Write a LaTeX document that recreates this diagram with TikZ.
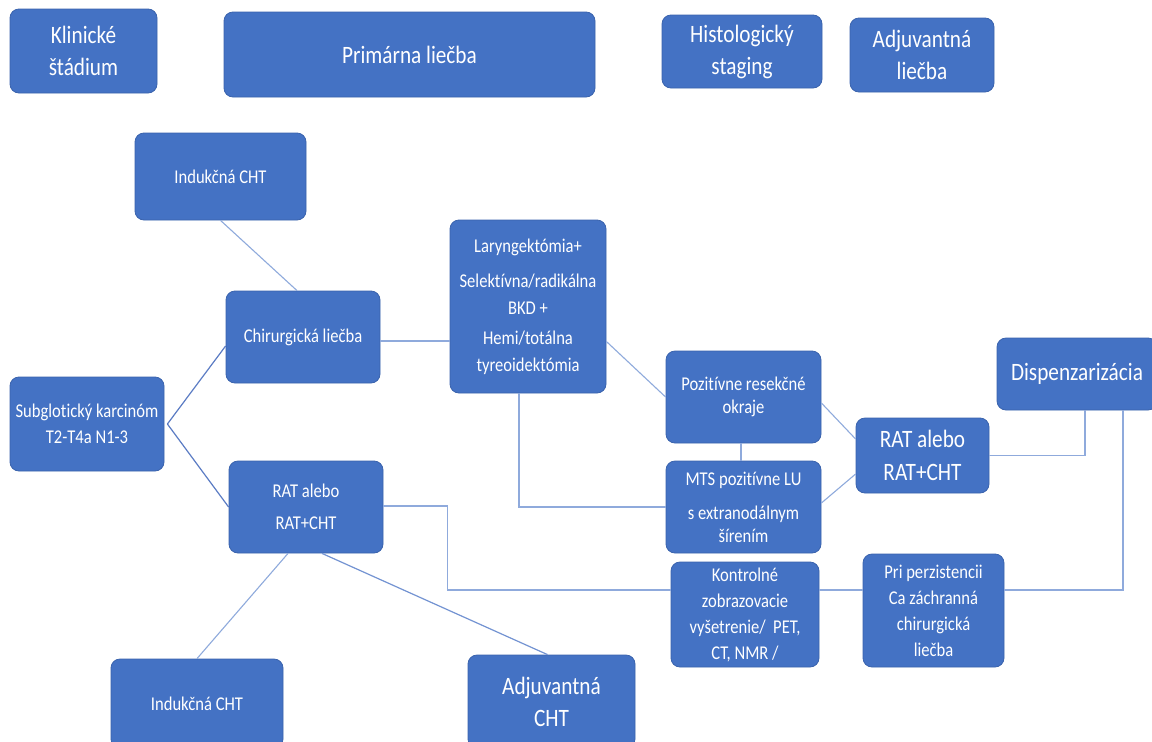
\documentclass[tikz,border=0pt]{standalone}
\usepackage{fontspec}
\setmainfont{Carlito}[FakeStretch=0.85, Ligatures={CommonOff}]
\definecolor{boxblue}{HTML}{4472C4}
\definecolor{boxedge}{HTML}{3A63AD}
\definecolor{lightline}{HTML}{8FAADC}
\definecolor{darkline}{HTML}{5B7CC4}
\definecolor{midline}{HTML}{7393D2}
\tikzset{
  box/.style={rectangle, rounded corners=9pt, fill=boxblue, draw=boxedge, line width=0.8pt, text=white, align=center, inner sep=0pt},
  big/.style={font=\fontsize{25}{32}\selectfont},
  small/.style={font=\fontsize{19.5}{26}\selectfont},
  smalltight/.style={font=\fontsize{19.5}{23}\selectfont},
  conn/.style={draw=lightline, line width=1.1pt},
  connd/.style={draw=darkline, line width=1.2pt},
  connm/.style={draw=midline, line width=1.2pt}
}
\begin{document}
\begin{tikzpicture}[x=1pt, y=-1pt]
\useasboundingbox (0,0) rectangle (1152,742);
\clip (0,0) rectangle (1152,742);
\fill[white] (0,0) rectangle (1152,742);
% header row
\node[box, big, minimum width=147pt, minimum height=84pt] (klin) at (83.5,51) {Klinické\\štádium};
\node[box, big, minimum width=371pt, minimum height=85pt] (prim) at (409.5,54.5) {Primárna liečba};
\node[box, big, minimum width=160pt, minimum height=73pt] (hist) at (742,51.5) {Histologický\\staging};
\node[box, big, minimum width=144pt, minimum height=74pt] (adjl) at (922,55) {Adjuvantná\\liečba};
% main diagram
\node[box, small, minimum width=171pt, minimum height=87pt] (ind1) at (220.5,176.5) {Indukčná CHT};
\node[box, small, minimum width=154pt, minimum height=92pt] (chir) at (303,337) {Chirurgická liečba};
\node[box, font=\fontsize{19.5}{27}\selectfont, minimum width=156pt, minimum height=173pt] (lar) at (528,306.5) {Laryngektómia+\\[8pt]Selektívna/radikálna\\BKD +\\[3pt]Hemi/totálna\\tyreoidektómia};
\node[box, small, minimum width=154pt, minimum height=94pt] (sub) at (87,424) {Subglotický karcinóm\\T2-T4a N1-3};
\node[box, smalltight, minimum width=155pt, minimum height=92pt] (poz) at (743.5,397) {Pozitívne resekčné\\okraje};
\node[box, smalltight, minimum width=155pt, minimum height=92pt] (mts) at (743.5,507) {MTS pozitívne LU\\[11pt]s extranodálnym\\šírením};
\node[box, font=\fontsize{25}{33}\selectfont, minimum width=133pt, minimum height=75pt] (rat2) at (922.5,455.5) {RAT alebo\\RAT+CHT};
\node[box, big, minimum width=160pt, minimum height=72pt] (disp) at (1077,374) {Dispenzarizácia};
\node[box, small, minimum width=154pt, minimum height=92pt] (rat1) at (306,507) {RAT alebo\\[6pt]RAT+CHT};
\node[box, small, minimum width=148pt, minimum height=105pt] (kon) at (745,614.5) {Kontrolné\\zobrazovacie\\vyšetrenie/~ PET,\\CT, NMR /};
\node[box, small, minimum width=141pt, minimum height=113pt] (pri) at (933.5,610.5) {Pri perzistencii\\Ca záchranná\\chirurgická\\liečba};
\node[box, small, minimum width=172pt, minimum height=89pt] (ind2) at (197,703.5) {Indukčná CHT};
\node[box, big, minimum width=167pt, minimum height=93pt] (adjc) at (551.5,701.5) {Adjuvantná\\CHT};
% connectors
\draw[connd] ([xshift=3pt]sub.east) -- ([yshift=-9pt]chir.west);
\draw[connd] ([xshift=3pt]sub.east) -- (rat1.west);
\draw[conn] (ind1.south) -- ([xshift=-6pt]chir.north);
\draw[conn] ([yshift=-4pt]chir.east) -- ([yshift=-4pt]chir.east -| lar.west);
\draw[conn] ([yshift=-35pt]lar.east) -- (poz.west);
\draw[conn] ([xshift=-9pt]lar.south) |- (mts.west);
\draw[conn] ([xshift=-2.5pt]poz.south) -- ([xshift=-2.5pt]mts.north);
\draw[conn] ([yshift=-6pt]poz.east) -- ([yshift=16.5pt]rat2.west);
\draw[conn] ([yshift=4pt]mts.east) -- ([yshift=-18.5pt]rat2.west);
\draw[conn] (rat2.east) -| ([xshift=8pt]disp.south);
\draw[conn] ([xshift=46pt]disp.south) |- ([yshift=20.5pt]pri.east);
\draw[conn] ([yshift=24.5pt]kon.east) -- ([yshift=24.5pt]kon.east -| pri.west);
\draw[conn] ([yshift=1pt]rat1.east) -- ++(64,0) |- ([yshift=24.5pt]kon.west);
\draw[conn] ([xshift=-18pt]rat1.south) -- (ind2.north);
\draw[connm] ([xshift=16pt]rat1.south) -- ([xshift=-4pt]adjc.north);
\end{tikzpicture}
\end{document}
